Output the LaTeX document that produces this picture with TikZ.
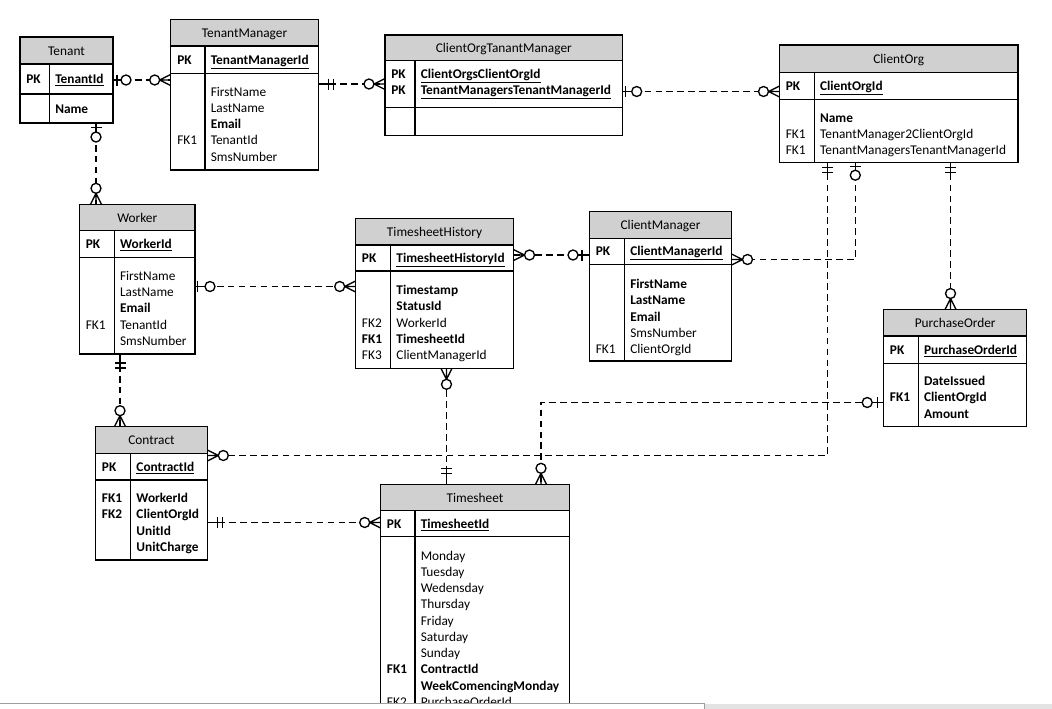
\documentclass[tikz,border=0pt]{standalone}
\usepackage{fontspec}
\setmainfont{Carlito}
\usetikzlibrary{fit}
\definecolor{hdrgray}{RGB}{208,208,208}
\tikzset{
  ebox/.style={draw, line width=0.8pt, inner sep=0pt, outer sep=0pt},
  txt/.style={font=\fontsize{10}{12.2}\selectfont, inner sep=0pt, anchor=base west, yshift=-3.4pt},
  ttl/.style={txt, anchor=base},
  rel/.style={line width=1.05pt, dash pattern=on 5pt off 3.2pt},
  sym/.style={line width=1pt, solid},
}
% entity frame: name, x1, y1, x2, y2, header bottom, pk bottom, divider x
\newcommand{\entity}[8]{%
  \fill[hdrgray] (#2,#3) rectangle (#4,#6);
  \draw[line width=0.8pt] (#2,#6) -- (#4,#6) (#2,#7) -- (#4,#7) (#8,#6) -- (#8,#5);
  \node[ebox, fit={(#2,#3) (#4,#5)}] (#1) {};
}
% list of field lines: prefix, x, first centre y, list
\newcommand{\flist}[4]{%
  \foreach \fld [count=\i] in {#4} {\node[txt] (#1\i) at (#2,{#3+16.25*(\i-1)}) {\fld};}
}
% zero or many
\newcommand{\zmany}[2]{%
  \begin{scope}[shift={(#1)}, rotate=#2]
    \draw[sym] (11,0) -- (0,-5.5) (11,0) -- (0,0) (11,0) -- (0,5.5);
    \draw[sym, fill=white] (16,0) circle[radius=5];
  \end{scope}}
% zero or one
\newcommand{\zone}[4]{%
  \begin{scope}[shift={(#1)}, rotate=#2]
    \draw[sym] (0,0) -- ({#4-5},0) (#3,-5.5) -- (#3,5.5);
    \draw[sym, fill=white] (#4,0) circle[radius=5];
  \end{scope}}
% one and only one
\newcommand{\oone}[3]{%
  \begin{scope}[shift={(#1)}, rotate=#2]
    \draw[sym] (0,0) -- ({#3+7},0) (#3,-5.5) -- (#3,5.5) ({#3+5},-5.5) -- ({#3+5},5.5);
  \end{scope}}

\begin{document}
\begin{tikzpicture}[x=0.75pt,y=-0.75pt]
\useasboundingbox (0,0) rectangle (1052,708);
\clip (0,0) rectangle (1052,708);
\fill[white] (0,0) rectangle (1052,708);

% ---------- entities ----------
\entity{tenant}{20}{37}{113}{123}{64}{94}{49.3}
\entity{tm}{170.7}{19.3}{318.3}{170}{46}{73.3}{205}
\entity{cotm}{385}{35}{622.7}{135.7}{60.5}{107.5}{415}
\entity{co}{779.5}{45}{1018}{162.7}{72.5}{99.3}{814.3}
\entity{worker}{79.5}{204.3}{195}{354}{230.7}{257.3}{114.3}
\entity{th}{355.7}{218.5}{513.5}{368.3}{245}{271}{390.7}
\entity{cm}{589.5}{211.5}{731.5}{361}{238.3}{264.5}{624.5}
\entity{po}{883.7}{309.5}{1026.7}{426.7}{336}{363.3}{918.3}
\entity{contract}{95.7}{426.7}{207.3}{560}{453.3}{480}{130.7}
\entity{ts}{380.7}{484.3}{569.3}{760}{510.7}{536.7}{415}

% Tenant
\node[ttl] (tenant-t) at (66.5,50.5) {Tenant};
\node[txt] (tenant-pk) at (26,79) {\textbf{PK}};
\node[txt] (tenant-id) at (55,79) {\textbf{\underline{TenantId}}};
\node[txt] (tenant-f1) at (55,108.5) {\textbf{Name}};

% TenantManager
\node[ttl] (tm-t) at (244.5,32.5) {TenantManager};
\node[txt] (tm-pk) at (177,59.5) {\textbf{PK}};
\node[txt] (tm-id) at (210.5,59.5) {\textbf{\underline{TenantManagerId}}};
\flist{tmf}{210.5}{91.5}{FirstName,LastName,\textbf{Email},TenantId,SmsNumber}
\node[txt] (tm-k1) at (177,140.25) {FK1};

% ClientOrgTanantManager
\node[ttl] (cotm-t) at (503.8,48) {ClientOrgTanantManager};
\node[txt] (cotm-pk1) at (391,74) {\textbf{PK}};
\node[txt] (cotm-pk2) at (391,90) {\textbf{PK}};
\node[txt] (cotm-id1) at (420.5,74) {\textbf{\underline{ClientOrgsClientOrgId}}};
\node[txt] (cotm-id2) at (420.5,90) {\textbf{\underline{TenantManagersTenantManagerId}}};

% ClientOrg
\node[ttl] (co-t) at (898.7,58.5) {ClientOrg};
\node[txt] (co-pk) at (785.5,85.5) {\textbf{PK}};
\node[txt] (co-id) at (819.8,85.5) {\textbf{\underline{ClientOrgId}}};
\flist{cof}{819.8}{117.5}{\textbf{Name},TenantManager2ClientOrgId,TenantManagersTenantManagerId}
\node[txt] (co-k1) at (785.5,133.75) {FK1};
\node[txt] (co-k2) at (785.5,150) {FK1};

% Worker
\node[ttl] (worker-t) at (137.2,217.5) {Worker};
\node[txt] (worker-pk) at (85.5,244) {\textbf{PK}};
\node[txt] (worker-id) at (119.8,244) {\textbf{\underline{WorkerId}}};
\flist{wf}{119.8}{275.8}{FirstName,LastName,\textbf{Email},TenantId,SmsNumber}
\node[txt] (worker-k1) at (85.5,324.55) {FK1};

% TimesheetHistory
\node[ttl] (th-t) at (434.6,232) {TimesheetHistory};
\node[txt] (th-pk) at (361.7,258) {\textbf{PK}};
\node[txt] (th-id) at (396.2,258) {\textbf{\underline{TimesheetHistoryId}}};
\flist{thf}{396.2}{290}{\textbf{Timestamp},\textbf{StatusId},WorkerId,\textbf{TimesheetId},ClientManagerId}
\node[txt] (th-k2) at (361.7,322.5) {FK2};
\node[txt] (th-k1) at (361.7,338.75) {\textbf{FK1}};
\node[txt] (th-k3) at (361.7,355) {FK3};

% ClientManager
\node[ttl] (cm-t) at (660.5,224.5) {ClientManager};
\node[txt] (cm-pk) at (595.5,251) {\textbf{PK}};
\node[txt] (cm-id) at (630,251) {\textbf{\underline{ClientManagerId}}};
\flist{cmf}{630}{284}{\textbf{FirstName},\textbf{LastName},\textbf{Email},SmsNumber,ClientOrgId}
\node[txt] (cm-k1) at (595.5,349) {FK1};

% PurchaseOrder
\node[ttl] (po-t) at (955.2,323) {PurchaseOrder};
\node[txt] (po-pk) at (889.7,349.5) {\textbf{PK}};
\node[txt] (po-id) at (923.8,349.5) {\textbf{\underline{PurchaseOrderId}}};
\flist{pof}{923.8}{381}{\textbf{DateIssued},\textbf{ClientOrgId},\textbf{Amount}}
\node[txt] (po-k1) at (889.7,397.25) {\textbf{FK1}};

% Contract
\node[ttl] (contract-t) at (151.5,440) {Contract};
\node[txt] (contract-pk) at (101.7,466.5) {\textbf{PK}};
\node[txt] (contract-id) at (136.2,466.5) {\textbf{\underline{ContractId}}};
\flist{ctf}{136.2}{498}{\textbf{WorkerId},\textbf{ClientOrgId},\textbf{UnitId},\textbf{UnitCharge}}
\node[txt] (contract-k1) at (101.7,498) {\textbf{FK1}};
\node[txt] (contract-k2) at (101.7,514.25) {\textbf{FK2}};

% Timesheet
\node[ttl] (ts-t) at (475,497.5) {Timesheet};
\node[txt] (ts-pk) at (386.7,524) {\textbf{PK}};
\node[txt] (ts-id) at (420.5,524) {\textbf{\underline{TimesheetId}}};
\flist{tsf}{420.5}{555.5}{Monday,Tuesday,Wedensday,Thursday,Friday,Saturday,Sunday,\textbf{ContractId},\textbf{WeekComencingMonday},PurchaseOrderId}
\node[txt] (ts-k1) at (386.7,669.25) {\textbf{FK1}};
\node[txt] (ts-k2) at (386.7,701.75) {FK2};

% ---------- relationships ----------
\draw[rel] (tenant.east |- 0,80) -- (tm.west |- 0,80);
\draw[rel] (tm.east |- 0,84) -- (cotm.west |- 0,84);
\draw[rel] (cotm.east |- 0,91.5) -- (co.west |- 0,91.5);
\draw[rel] (co.south -| 827.5,0) |- (contract.east |- 0,455.5);
\draw[rel] (co.south -| 855.3,0) |- (cm.east |- 0,259.5);
\draw[rel] (co.south -| 950.5,0) -- (po.north -| 950.5,0);
\draw[rel] (tenant.south -| 96,0) -- (worker.north -| 96,0);
\draw[rel] (worker.east |- 0,286.5) -- (th.west |- 0,286.5);
\draw[rel] (th.east |- 0,255) -- (cm.west |- 0,255);
\draw[rel] (th.south -| 446.5,0) -- (ts.north -| 446.5,0);
\draw[rel] (worker.south -| 120,0) -- (contract.north -| 120,0);
\draw[rel] (contract.east |- 0,522.5) -- (ts.west |- 0,522.5);
\draw[rel] (po.west |- 0,402.5) -| (ts.north -| 541,0);

% ---------- end symbols ----------
\zone{tenant.east |- 0,80}{0}{4}{13}
\zmany{tm.west |- 0,80}{180}
\oone{tm.east |- 0,84}{0}{10}
\zmany{cotm.west |- 0,84}{180}
\zone{cotm.east |- 0,91.5}{0}{3}{14}
\zmany{co.west |- 0,91.5}{180}
\oone{co.south -| 827.5,0}{-90}{4.5}
\zmany{contract.east |- 0,455.5}{0}
\zone{co.south -| 855.3,0}{-90}{4}{12.5}
\zmany{cm.east |- 0,259.5}{0}
\oone{co.south -| 950.5,0}{-90}{4.5}
\zmany{po.north -| 950.5,0}{90}
\zone{tenant.south -| 96,0}{-90}{4.5}{14}
\zmany{worker.north -| 96,0}{90}
\zone{worker.east |- 0,286.5}{0}{2.5}{15}
\zmany{th.west |- 0,286.5}{180}
\zmany{th.east |- 0,255}{0}
\zone{cm.west |- 0,255}{180}{7.5}{16.5}
\zmany{th.south -| 446.5,0}{-90}
\oone{ts.north -| 446.5,0}{90}{11}
\oone{worker.south -| 120,0}{-90}{9}
\zmany{contract.north -| 120,0}{90}
\oone{contract.east |- 0,522.5}{0}{10}
\zmany{ts.west |- 0,522.5}{180}
\zone{po.west |- 0,402.5}{180}{6}{16.5}
\zmany{ts.north -| 541,0}{90}

% ---------- window edge at the bottom ----------
\fill[white] (0,703.5) rectangle (1052,720);
\fill[gray!22] (704,703.5) rectangle (1052,720);
\draw[gray!75, line width=0.75pt] (0,703.5) -- (704,703.5) -- (704,720);
\end{tikzpicture}
\end{document}
